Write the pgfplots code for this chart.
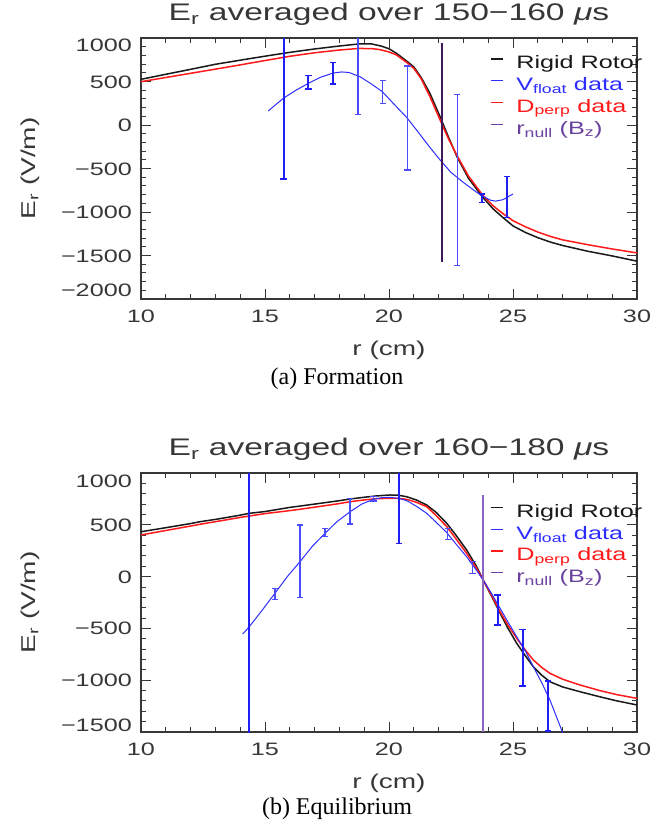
\documentclass[border=0pt]{standalone}
\usepackage{fontspec}
\setmainfont{Liberation Sans}[FakeStretch=1.4]
\newfontfamily\capfont{Liberation Serif}
\usepackage{pgfplots}
\pgfplotsset{compat=1.18}
\usepackage{pgfplotstable}

\definecolor{rrblack}{RGB}{25,25,25}
\definecolor{dred}{RGB}{255,25,25}
\definecolor{vblue}{RGB}{45,45,255}
\definecolor{ebblue}{RGB}{30,30,245}
\definecolor{eblight}{RGB}{75,75,255}
\definecolor{nulldark}{RGB}{65,25,90}
\definecolor{nulllight}{RGB}{140,100,195}
\definecolor{nulltext}{RGB}{105,65,160}
\definecolor{txtgray}{RGB}{55,55,55}

\newcommand{\tickfont}{\fontsize{18}{18}\selectfont}
\newcommand{\labfont}{\fontsize{20}{20}\selectfont}
\newcommand{\titfont}{\fontsize{24}{24}\selectfont}
\newcommand{\lstrut}{\rule[-5pt]{0pt}{18pt}}

% ---- (a) formation, 150-160 us ----
\pgfplotstableread{
r E
10 525
11 583
12 640
13 698
14 745
15 791
16 835
17 874
18 908
18.8 932
19.3 932
19.7 906
20.0 876
20.3 824
20.7 738
21.0 668
21.3 545
21.65 364
22.06 95
22.4 -140
22.74 -364
23.2 -610
23.76 -824
24.2 -965
24.6 -1065
25.0 -1160
25.5 -1235
26.0 -1295
26.5 -1345
27.0 -1385
28.0 -1450
29.0 -1505
30.0 -1565
}\rrA
\pgfplotstableread{
r E
10 498
11 546
12 594
13 642
14 691
15 741
16 790
17 830
18 862
18.8 880
19.3 878
19.6 868
20.0 840
20.3 805
20.7 722
21.0 651
21.3 530
21.65 326
22.06 57
22.4 -160
22.74 -350
23.2 -585
23.76 -800
24.2 -930
24.6 -1020
25.0 -1100
25.5 -1170
26.0 -1230
26.5 -1280
27.0 -1320
28.0 -1375
29.0 -1425
30.0 -1470
}\dpA
\pgfplotstableread{
r E
15.13 161
15.5 250
15.74 307
16.25 400
16.75 479
17.25 550
17.75 598
18.1 610
18.4 603
18.83 555
19.3 470
19.73 383
20.2 240
20.71 88
21.2 -90
21.6 -240
22.06 -402
22.5 -545
23.0 -660
23.5 -766
23.8 -822
24.1 -865
24.3 -875
24.6 -858
25.0 -793
}\vfA
% error bars: low and high end of each bar, nan between bars
\pgfplotstableread{
r E
15.75 -620
15.75 1220
15.75 nan
16.75 413
16.75 567
16.75 nan
17.75 471
17.75 717
17.75 nan
23.75 -889
23.75 -793
23.75 nan
24.75 -1061
24.75 -593
}\ebAthick
\pgfplotstableread{
r E
18.75 120
18.75 1080
18.75 nan
19.75 249
19.75 509
19.75 nan
20.75 -518
20.75 678
20.75 nan
22.75 -1617
22.75 353
}\ebAthin
\pgfplotstableread{
r E
22.14 939
22.14 -1571
}\nullA

% ---- (b) equilibrium, 160-180 us ----
\pgfplotstableread{
r E
10 433
11 472
12 512
12.38 530
13 552
14 593
14.37 611
15 628
16 668
16.41 681
17 700
18 733
18.43 749
19 766
19.5 779
20.04 788
20.4 785
20.71 771
21.1 740
21.52 691
21.9 620
22.33 514
22.7 400
23.13 257
23.5 110
23.8 -33
24.15 -195
24.48 -354
24.8 -500
25.15 -644
25.5 -765
25.82 -870
26.15 -950
26.49 -1015
27.0 -1065
27.7 -1111
28.5 -1160
29.2 -1200
30 -1239
}\rrB
\pgfplotstableread{
r E
10 402
11 445
12 488
12.38 505
13 530
14 571
14.37 585
15 608
16 637
16.41 650
17 670
18 705
18.43 723
19 740
19.5 752
20.04 756
20.4 754
20.71 746
21.1 718
21.52 675
21.9 590
22.33 482
22.7 365
23.13 225
23.5 90
23.8 -33
24.15 -185
24.48 -339
24.8 -470
25.15 -596
25.5 -710
25.82 -805
26.15 -875
26.49 -934
27.0 -990
27.7 -1046
28.5 -1100
29.2 -1140
30 -1175
}\dpB
\pgfplotstableread{
r E
14.1 -554
14.37 -483
14.9 -320
15.4 -161
15.9 0
16.41 144
16.9 290
17.42 418
17.9 530
18.43 626
18.9 700
19.37 746
19.7 762
20.04 765
20.4 755
20.71 733
21.1 680
21.52 611
21.9 525
22.33 424
22.7 315
23.13 192
23.5 70
23.8 -33
24.15 -170
24.48 -306
24.8 -440
25.15 -580
25.5 -720
25.82 -870
26.15 -1020
26.49 -1191
26.96 -1481
27.05 -1540
}\vfB
\pgfplotstableread{
r E
14.37 -1700
14.37 1200
14.37 nan
20.4 320
20.4 1200
20.4 nan
24.38 -467
24.38 -177
24.38 nan
25.39 -1055
25.39 -509
25.39 nan
26.4 -1490
26.4 -1010
}\ebBthick
\pgfplotstableread{
r E
15.4 -219
15.4 -113
15.4 nan
16.41 -200
16.41 498
16.41 nan
17.42 385
17.42 465
17.42 nan
18.43 508
18.43 756
18.43 nan
19.37 730
19.37 770
19.37 nan
22.37 360
22.37 466
22.37 nan
23.37 32
23.37 144
}\ebBthin
\pgfplotstableread{
r E
23.8 790
23.8 -1500
}\nullB

\pgfplotsset{
  idl/.style={
    scale only axis, width=496pt, anchor=south west,
    xmin=10, xmax=30,
    xtick={10,15,20,25,30}, xticklabels={10,15,20,25,30},
    minor x tick num=4, minor y tick num=4,
    tick align=inside,
    major tick length=10pt, minor tick length=5pt,
    axis line style={txtgray, line width=1.1pt},
    every tick/.style={txtgray, line width=0.9pt},
    tick label style={font=\tickfont, text=txtgray},
    xticklabel style={anchor=base, yshift=-23.5pt},
    yticklabel style={anchor=base east, inner sep=0pt, xshift=-9pt, yshift=-6.5pt},
    xlabel={r (cm)},
    ylabel={E\textsubscript{r} (V/m)},
    every axis x label/.style={at={(axis description cs:0.5,0)}, anchor=base, yshift=-56pt, font=\labfont, text=txtgray},
    every axis y label/.style={at={(axis description cs:0,0.5)}, xshift=-111pt, rotate=90, anchor=center, font=\labfont, text=txtgray},
    title style={at={(axis description cs:0.5,1)}, anchor=base, yshift=11.5pt, font=\titfont, text=txtgray},
    legend style={draw=none, fill=none, anchor=north west, inner sep=0pt,
      font=\tickfont, row sep=7.2pt, column sep=13pt, nodes={inner sep=0pt}},
    legend cell align=left,
    legend image code/.code={\draw[##1] (0pt,4pt) -- (12pt,4pt);},
    unbounded coords=jump,
  },
  ebthick/.style={forget plot, ebblue, line width=2pt,
    mark=-, mark size=3.2pt, mark options={line width=1.5pt}},
  ebthin/.style={forget plot, eblight, line width=1.3pt,
    mark=-, mark size=3.2pt, mark options={line width=1.2pt}},
}

\begin{document}
\begin{tikzpicture}[x=1pt,y=1pt]
\useasboundingbox (0,0) rectangle (664,-840);

\begin{axis}[idl, at={(141pt,-299pt)}, height=261pt,
  ymin=-2000, ymax=1000,
  ytick={-2000,-1500,...,1000},
  yticklabels={\raisebox{9pt}{−2000},−1500,−1000,−500,0,500,\raisebox{-7pt}{1000}},
  title={E\textsubscript{r} averaged over 150−160 \textit{μ}s},
  legend style={at={(axis cs:24.07,798)}},
]
\addplot[forget plot, rrblack, line width=1.5pt] table[x=r,y=E] \rrA;
\addplot[forget plot, dred, line width=1.5pt] table[x=r,y=E] \dpA;
\addplot[forget plot, vblue, line width=1pt] table[x=r,y=E] \vfA;
\addplot[ebthin] table[x=r,y=E] \ebAthin;
\addplot[ebthick] table[x=r,y=E] \ebAthick;
\addplot[forget plot, nulldark, line width=1.5pt] table[x=r,y=E] \nullA;
\addlegendimage{rrblack, line width=1.2pt}
\addlegendentry{\textcolor{rrblack}{\lstrut Rigid Rotor}}
\addlegendimage{vblue, line width=1.2pt}
\addlegendentry{\textcolor{vblue}{\lstrut V\textsubscript{float} data}}
\addlegendimage{dred, line width=1.2pt}
\addlegendentry{\textcolor{dred}{\lstrut D\textsubscript{perp} data}}
\addlegendimage{nulltext, line width=1.2pt}
\addlegendentry{\textcolor{nulltext}{\lstrut r\textsubscript{null} (B\textsubscript{z})}}
\end{axis}

\begin{axis}[idl, at={(141pt,-732pt)}, height=259pt,
  ymin=-1500, ymax=1000,
  ytick={-1500,-1000,...,1000},
  yticklabels={\raisebox{7pt}{−1500},−1000,−500,0,500,\raisebox{-8pt}{1000}},
  title={E\textsubscript{r} averaged over 160−180 \textit{μ}s},
  legend style={at={(axis cs:24.07,700)}},
]
\addplot[forget plot, rrblack, line width=1.5pt] table[x=r,y=E] \rrB;
\addplot[forget plot, dred, line width=1.5pt] table[x=r,y=E] \dpB;
\addplot[forget plot, vblue, line width=1pt] table[x=r,y=E] \vfB;
\addplot[ebthin] table[x=r,y=E] \ebBthin;
\addplot[ebthick] table[x=r,y=E] \ebBthick;
\addplot[forget plot, nulllight, line width=1.5pt] table[x=r,y=E] \nullB;
\addlegendimage{rrblack, line width=1.2pt}
\addlegendentry{\textcolor{rrblack}{\lstrut Rigid Rotor}}
\addlegendimage{vblue, line width=1.2pt}
\addlegendentry{\textcolor{vblue}{\lstrut V\textsubscript{float} data}}
\addlegendimage{dred, line width=1.2pt}
\addlegendentry{\textcolor{dred}{\lstrut D\textsubscript{perp} data}}
\addlegendimage{nulltext, line width=1.2pt}
\addlegendentry{\textcolor{nulltext}{\lstrut r\textsubscript{null} (B\textsubscript{z})}}
\end{axis}

\node[font=\capfont\fontsize{24}{24}\selectfont, anchor=base] at (337,-384) {(a) Formation};
\node[font=\capfont\fontsize{24}{24}\selectfont, anchor=base] at (337,-814) {(b) Equilibrium};
\end{tikzpicture}
\end{document}
